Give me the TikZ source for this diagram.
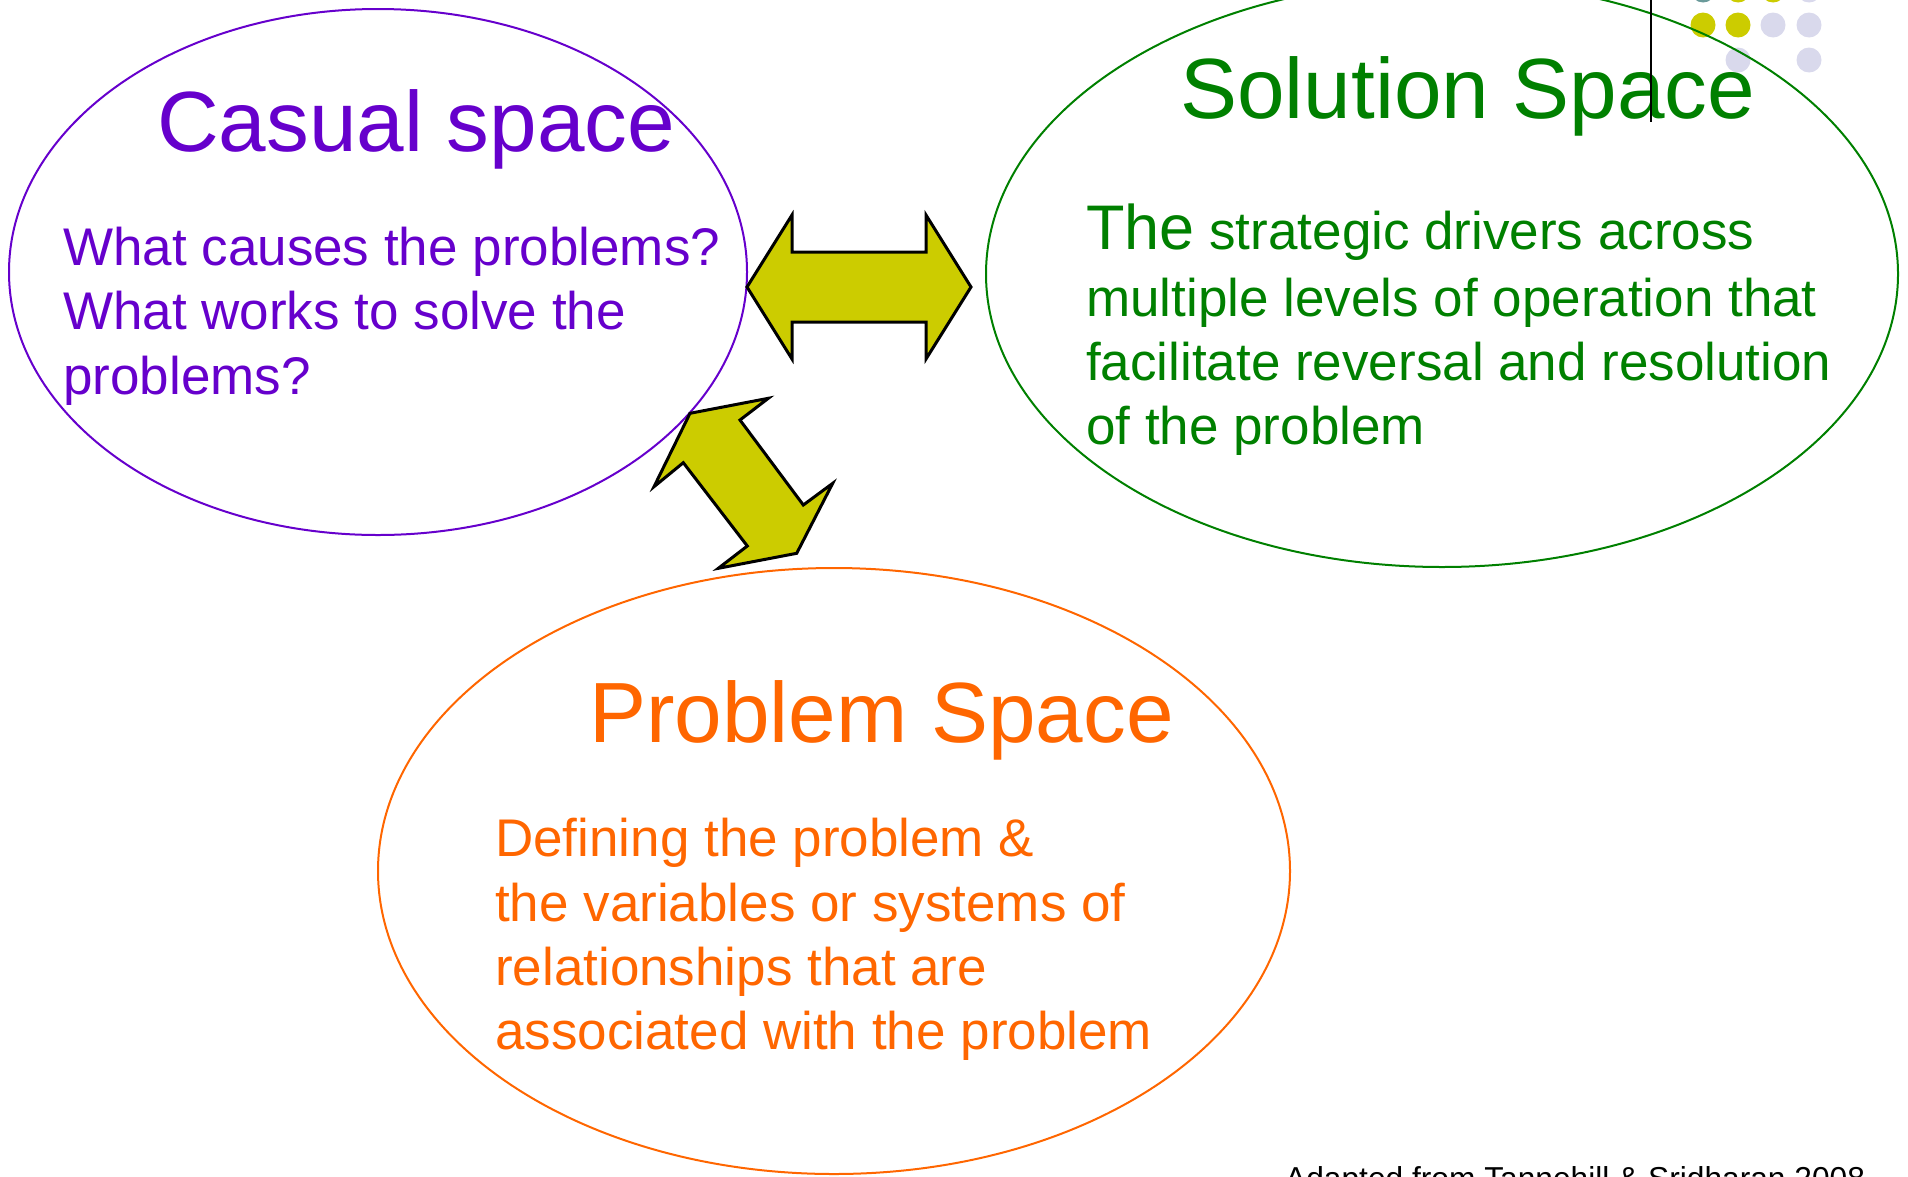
\documentclass[tikz,border=0pt]{standalone}
\usepackage{fontspec}
\setmainfont{Liberation Sans}
\usetikzlibrary{shapes.geometric}
\definecolor{cpurple}{HTML}{6600CC}
\definecolor{cgreen}{HTML}{008000}
\definecolor{corange}{HTML}{FF6600}
\definecolor{cyel}{HTML}{CCCC00}
\definecolor{clav}{HTML}{D9D9EC}
\definecolor{cteal}{HTML}{6A9A9A}
\begin{document}
\begin{tikzpicture}[x=1pt,y=-1pt,
 space/.style={ellipse, draw, line width=2pt, inner sep=0pt},
 titletext/.style={anchor=base west, inner sep=0pt, font=\fontsize{85.5}{100}\selectfont},
 bodytext/.style={anchor=base west, inner sep=0pt, font=\fontsize{53}{64}\selectfont},
 blockarrow/.style={fill=cyel, draw=black, line width=3pt, line join=miter},
 dot/.style={circle, inner sep=0pt, minimum size=25pt}
]
\clip (0,0) rectangle (1908,1176);
% decorative dots
\node[dot, fill=cteal] (d11) at (1703,-10) {};
\node[dot, fill=cyel] (d12) at (1738,-10) {};
\node[dot, fill=cyel] (d13) at (1773,-10) {};
\node[dot, fill=clav] (d14) at (1809,-10) {};
\node[dot, fill=cyel] (d21) at (1703,25) {};
\node[dot, fill=cyel] (d22) at (1738,25) {};
\node[dot, fill=clav] (d23) at (1773,25) {};
\node[dot, fill=clav] (d24) at (1809,25) {};
\node[dot, fill=clav] (d32) at (1738,60) {};
\node[dot, fill=clav] (d34) at (1809,60) {};
% ellipses
\node[space, draw=cpurple, minimum width=738pt, minimum height=526pt] (causal) at (378,272) {};
\node[space, draw=cgreen, minimum width=912pt, minimum height=586pt] (solution) at (1442,274) {};
\node[space, draw=corange, minimum width=912pt, minimum height=606pt] (problem) at (834,871) {};
% block arrows
\draw[blockarrow] (747,287) -- (792,215) -- (792,252) -- (926,252) -- (926,215) -- (971,287)
  -- (926,359) -- (926,322) -- (792,322) -- (792,359) -- cycle;
\draw[blockarrow] (690,413.3) -- (768.3,398.3) -- (740,420) -- (803.3,505) -- (832.7,483.3)
  -- (796.7,553.3) -- (718.3,568.3) -- (747.3,546) -- (683.3,462.7) -- (654,486.7) -- cycle;
% causal texts
\node[titletext, text=cpurple] (ct) at (157,151) {Casual space};
\node[bodytext, text=cpurple] (c1) at (63,265) {What causes the problems?};
\node[bodytext, text=cpurple] (c2) at (63,329) {What works to solve the};
\node[bodytext, text=cpurple] (c3) at (63,394) {problems?};
% solution texts
\node[titletext, text=cgreen] (st) at (1180,118) {Solution Space};
\node[bodytext, text=cgreen] (s1) at (1086,249) {{\fontsize{63}{70}\selectfont The} strategic drivers across};
\node[bodytext, text=cgreen] (s2) at (1086,316) {multiple levels of operation that};
\node[bodytext, text=cgreen] (s3) at (1086,380) {facilitate reversal and resolution};
\node[bodytext, text=cgreen] (s4) at (1086,444) {of the problem};
% problem texts
\node[titletext, text=corange] (pt) at (589,742) {Problem Space};
\node[bodytext, text=corange] (p1) at (495,856) {Defining the problem \&};
\node[bodytext, text=corange] (p2) at (495,921) {the variables or systems of};
\node[bodytext, text=corange] (p3) at (495,985) {relationships that are};
\node[bodytext, text=corange] (p4) at (495,1049) {associated with the problem};
% vertical rule
\coordinate (vtop) at (1651,0);
\coordinate (vbot) at (1651,122);
\draw[line width=1.5pt] (vtop) -- (vbot);
% credit (cut off at the lower edge, as in the original)
\node[anchor=base west, inner sep=0pt, font=\fontsize{31.7}{38}\selectfont] (credit) at (1285,1189) {Adapted from Tannehill \& Sridharan 2008};
\end{tikzpicture}
\end{document}
